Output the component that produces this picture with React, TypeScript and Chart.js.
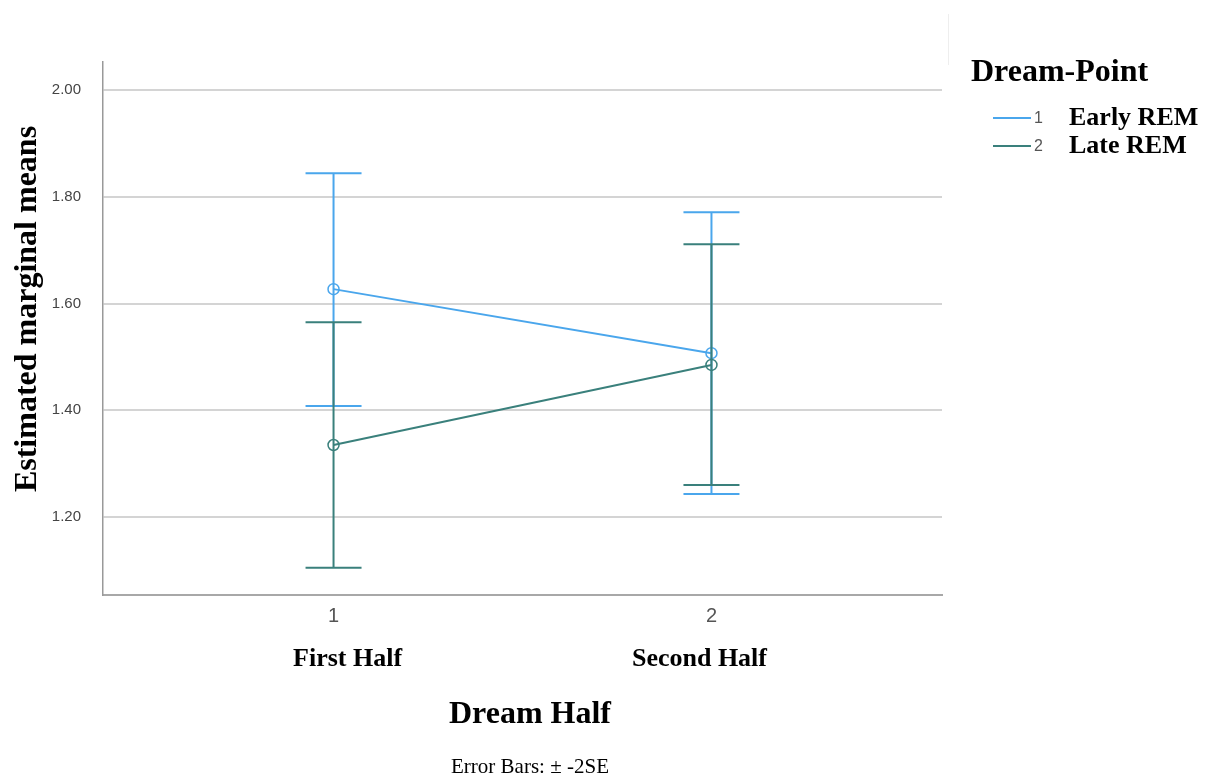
import React, { useEffect, useRef } from "react";
import { Chart, registerables } from "chart.js";

Chart.register(...registerables);

// ---- data ----
const categories = [1, 2];
const categoryNames = ["First Half", "Second Half"];
const yTickValues = [1.2, 1.4, 1.6, 1.8, 2.0];
const seriesCodes = ["1", "2"];
const seriesNames = ["Early REM", "Late REM"];
const earlyMeans = [1.627, 1.507];
const earlyUpper = [1.844, 1.771];
const earlyLower = [1.408, 1.243];
const lateMeans = [1.335, 1.485];
const lateUpper = [1.565, 1.711];
const lateLower = [1.105, 1.26];

const yTitle = "Estimated marginal means";
const xTitle = "Dream Half";
const legendTitle = "Dream-Point";
const footnote = "Error Bars: \u00B1 -2SE";

const BLUE = "#4aa6ec";
const TEAL = "#3a807c";

const errorData = [
  { upper: earlyUpper, lower: earlyLower, color: BLUE },
  { upper: lateUpper, lower: lateLower, color: TEAL },
];

const errorBarPlugin = {
  id: "errorBars",
  afterDatasetDraw(chart: any, args: any) {
    const info = errorData[args.index];
    if (!info) return;
    const ctx = chart.ctx;
    const xs = chart.scales.x;
    const ys = chart.scales.y;
    ctx.save();
    ctx.strokeStyle = info.color;
    ctx.lineWidth = 2;
    categories.forEach((c, i) => {
      const px = xs.getPixelForValue(c);
      const pu = ys.getPixelForValue(info.upper[i]);
      const pl = ys.getPixelForValue(info.lower[i]);
      ctx.beginPath();
      ctx.moveTo(px, pu);
      ctx.lineTo(px, pl);
      ctx.moveTo(px - 28, pu);
      ctx.lineTo(px + 28, pu);
      ctx.moveTo(px - 28, pl);
      ctx.lineTo(px + 28, pl);
      ctx.stroke();
    });
    ctx.restore();
  },
};

const textPlugin = {
  id: "texts",
  afterDraw(chart: any) {
    const ctx = chart.ctx;
    const xs = chart.scales.x;
    ctx.save();
    ctx.fillStyle = "#000";
    ctx.textBaseline = "middle";
    // y title
    ctx.save();
    ctx.translate(28, 309);
    ctx.rotate(-Math.PI / 2);
    ctx.textAlign = "center";
    ctx.font = "bold 32px 'Liberation Serif'";
    ctx.fillText(yTitle, 0, 0);
    ctx.restore();
    // category names
    ctx.textAlign = "center";
    ctx.font = "bold 26px 'Liberation Serif'";
    categories.forEach((c, i) => {
      const px = xs.getPixelForValue(c) + (i === 0 ? 14 : -12);
      ctx.fillText(categoryNames[i], px, 659);
    });
    // x title
    ctx.font = "bold 32px 'Liberation Serif'";
    ctx.fillText(xTitle, 530, 715);
    // footnote
    ctx.font = "21px 'Liberation Serif'";
    ctx.fillText(footnote, 530, 767);
    // legend
    ctx.textAlign = "left";
    ctx.font = "bold 32px 'Liberation Serif'";
    ctx.fillText(legendTitle, 971, 73);
    const colors = [BLUE, TEAL];
    seriesNames.forEach((name, i) => {
      const y = 118 + i * 28;
      ctx.strokeStyle = colors[i];
      ctx.lineWidth = 2;
      ctx.beginPath();
      ctx.moveTo(993, y);
      ctx.lineTo(1031, y);
      ctx.stroke();
      ctx.fillStyle = "#555";
      ctx.font = "16px 'Liberation Sans'";
      ctx.fillText(seriesCodes[i], 1034, y + 1);
      ctx.fillStyle = "#000";
      ctx.font = "bold 26px 'Liberation Serif'";
      ctx.fillText(name, 1069, y);
    });
    // faint separator
    ctx.strokeStyle = "#eeeeee";
    ctx.lineWidth = 1;
    ctx.beginPath();
    ctx.moveTo(948.5, 14);
    ctx.lineTo(948.5, 65);
    ctx.stroke();
    ctx.restore();
  },
};

export default function App() {
  const ref = useRef<HTMLCanvasElement | null>(null);
  useEffect(() => {
    if (!ref.current) return;
    const chart = new Chart(ref.current, {
      type: "scatter",
      data: {
        datasets: [
          {
            label: seriesNames[0],
            data: categories.map((c, i) => ({ x: c, y: earlyMeans[i] })),
            showLine: true,
            borderColor: BLUE,
            borderWidth: 2,
            pointRadius: 5.5,
            pointBorderWidth: 1.5,
            pointBackgroundColor: "rgba(0,0,0,0)",
            pointBorderColor: BLUE,
            order: 1,
          },
          {
            label: seriesNames[1],
            data: categories.map((c, i) => ({ x: c, y: lateMeans[i] })),
            showLine: true,
            borderColor: TEAL,
            borderWidth: 2,
            pointRadius: 5.5,
            pointBorderWidth: 1.5,
            pointBackgroundColor: "rgba(0,0,0,0)",
            pointBorderColor: TEAL,
            order: 0,
          },
        ],
      },
      options: {
        animation: false,
        responsive: false,
        layout: { padding: { top: 62, right: 266, left: 0, bottom: 0 } },
        plugins: {
          legend: { display: false },
          tooltip: { enabled: false },
          title: { display: false },
        },
        scales: {
          x: {
            type: "linear",
            min: 0.39,
            max: 2.61,
            afterBuildTicks: (s: any) => {
              s.ticks = categories.map((v) => ({ value: v }));
            },
            afterFit: (s: any) => {
              s.height = 180;
            },
            grid: { display: false, drawTicks: false },
            border: { display: true, color: "#a8a8a8", width: 2 },
            ticks: {
              padding: 9,
              color: "#555",
              font: { family: "'Liberation Sans'", size: 20 },
              callback: (v: any) => String(v),
              maxRotation: 0,
            },
          },
          y: {
            type: "linear",
            min: 1.054,
            max: 2.0525,
            afterBuildTicks: (s: any) => {
              s.ticks = yTickValues.map((v) => ({ value: v }));
            },
            afterFit: (s: any) => {
              s.width = 103;
            },
            grid: { display: true, color: "#d4d4d4", lineWidth: 2, drawTicks: false },
            border: { display: true, color: "#999", width: 1.5 },
            ticks: {
              padding: 22,
              color: "#444",
              font: { family: "'Liberation Sans'", size: 15 },
              callback: (v: any) => Number(v).toFixed(2),
            },
          },
        },
      },
      plugins: [errorBarPlugin, textPlugin],
    } as any);
    return () => chart.destroy();
  }, []);
  return (
    <div
      style={{
        position: "absolute",
        left: 0,
        top: 0,
        width: 1208,
        height: 775,
        background: "#fff",
      }}
    >
      <canvas ref={ref} width={1208} height={775} style={{ display: "block" }} />
    </div>
  );
}
